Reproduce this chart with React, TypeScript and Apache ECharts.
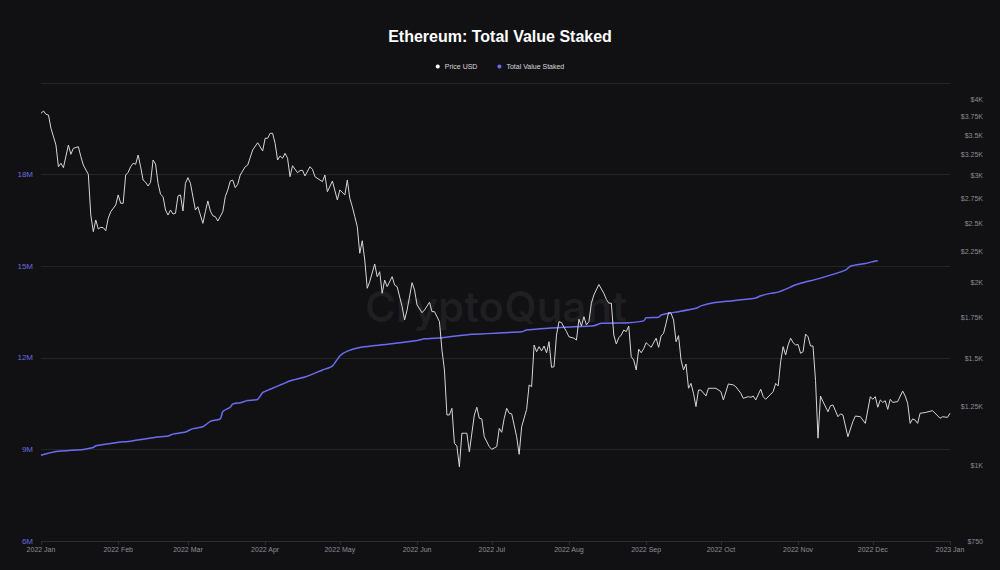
import React, { useEffect, useRef } from 'react';
import * as echarts from 'echarts';

const TITLE = 'Ethereum: Total Value Staked';
const SERIES_NAMES = ['Price USD', 'Total Value Staked'];
const WATERMARK = 'CryptoQuant';
const MONTH_NAMES = ['Jan', 'Feb', 'Mar', 'Apr', 'May', 'Jun', 'Jul', 'Aug', 'Sep', 'Oct', 'Nov', 'Dec'];
const X_TICKS = [
  '2022-01-01', '2022-02-01', '2022-03-01', '2022-04-01', '2022-05-01', '2022-06-01', '2022-07-01',
  '2022-08-01', '2022-09-01', '2022-10-01', '2022-11-01', '2022-12-01', '2023-01-01',
];
const STAKED_AXIS = { min: 6, max: 21, interval: 3 };
const PRICE_AXIS = { min: 750, max: 4265 };
const PRICE_TICKS = [750, 1000, 1250, 1500, 1750, 2000, 2250, 2500, 2750, 3000, 3250, 3500, 3750, 4000];

const PRICE_USD: [string, number][] = [
  ['2022-01-01', 3802], ['2022-01-02', 3835], ['2022-01-03', 3788], ['2022-01-04', 3777], ['2022-01-05', 3592],
  ['2022-01-07', 3371], ['2022-01-08', 3104], ['2022-01-09', 3145], ['2022-01-10', 3093], ['2022-01-12', 3371],
  ['2022-01-13', 3254], ['2022-01-14', 3329], ['2022-01-16', 3349], ['2022-01-17', 3225], ['2022-01-18', 3124],
  ['2022-01-20', 3016], ['2022-01-21', 2584], ['2022-01-22', 2426], ['2022-01-23', 2536], ['2022-01-24', 2451],
  ['2022-01-25', 2466], ['2022-01-26', 2463], ['2022-01-27', 2435], ['2022-01-28', 2553], ['2022-01-29', 2617],
  ['2022-01-31', 2684],
  ['2022-02-01', 2789], ['2022-02-02', 2702], ['2022-02-03', 2702], ['2022-02-04', 3008], ['2022-02-05', 3039],
  ['2022-02-06', 3104], ['2022-02-07', 3145], ['2022-02-08', 3133], ['2022-02-09', 3245], ['2022-02-10', 3104],
  ['2022-02-11', 2951], ['2022-02-12', 2926], ['2022-02-13', 2885], ['2022-02-14', 2926], ['2022-02-15', 3184],
  ['2022-02-16', 3136], ['2022-02-17', 2915], ['2022-02-18', 2796], ['2022-02-19', 2771], ['2022-02-20', 2634],
  ['2022-02-21', 2584], ['2022-02-22', 2634], ['2022-02-23', 2594], ['2022-02-24', 2601], ['2022-02-25', 2778],
  ['2022-02-26', 2789], ['2022-02-27', 2624], ['2022-02-28', 2915],
  ['2022-03-01', 2978], ['2022-03-02', 2915], ['2022-03-04', 2634], ['2022-03-05', 2667], ['2022-03-06', 2584],
  ['2022-03-07', 2504], ['2022-03-08', 2617], ['2022-03-09', 2726], ['2022-03-10', 2624], ['2022-03-11', 2577],
  ['2022-03-12', 2568], ['2022-03-13', 2526], ['2022-03-15', 2617], ['2022-03-16', 2771], ['2022-03-17', 2842],
  ['2022-03-18', 2940], ['2022-03-19', 2951], ['2022-03-20', 2867], ['2022-03-21', 2904], ['2022-03-22', 3008],
  ['2022-03-24', 3104], ['2022-03-25', 3124], ['2022-03-27', 3308], ['2022-03-29', 3400], ['2022-03-31', 3295],
  ['2022-04-01', 3458], ['2022-04-02', 3458], ['2022-04-03', 3524], ['2022-04-04', 3524], ['2022-04-05', 3393],
  ['2022-04-06', 3184], ['2022-04-07', 3233], ['2022-04-08', 3205], ['2022-04-09', 3266], ['2022-04-10', 3205],
  ['2022-04-11', 2989], ['2022-04-12', 3116], ['2022-04-14', 3035], ['2022-04-15', 3058], ['2022-04-16', 3063],
  ['2022-04-17', 2997], ['2022-04-19', 3104], ['2022-04-20', 3074], ['2022-04-21', 2989], ['2022-04-24', 2933],
  ['2022-04-25', 3008], ['2022-04-26', 2823], ['2022-04-28', 2940], ['2022-04-30', 2736],
  ['2022-05-01', 2842], ['2022-05-03', 2789], ['2022-05-04', 2951], ['2022-05-05', 2754], ['2022-05-06', 2667],
  ['2022-05-07', 2568], ['2022-05-08', 2472], ['2022-05-09', 2235], ['2022-05-10', 2344], ['2022-05-11', 2179],
  ['2022-05-12', 1957], ['2022-05-13', 2007], ['2022-05-15', 2146], ['2022-05-16', 2045], ['2022-05-17', 2084],
  ['2022-05-18', 1920], ['2022-05-19', 2019], ['2022-05-20', 1969], ['2022-05-22', 2045], ['2022-05-23', 1981],
  ['2022-05-24', 1969], ['2022-05-26', 1825], ['2022-05-27', 1735], ['2022-05-28', 1802], ['2022-05-30', 1999],
  ['2022-05-31', 1944],
  ['2022-06-01', 1837], ['2022-06-03', 1784], ['2022-06-04', 1802], ['2022-06-06', 1856], ['2022-06-07', 1791],
  ['2022-06-08', 1791], ['2022-06-10', 1724], ['2022-06-11', 1548], ['2022-06-12', 1435], ['2022-06-13', 1210],
  ['2022-06-14', 1210], ['2022-06-15', 1241], ['2022-06-16', 1087], ['2022-06-17', 1075], ['2022-06-18', 994],
  ['2022-06-19', 1129], ['2022-06-20', 1129], ['2022-06-21', 1129], ['2022-06-22', 1052], ['2022-06-24', 1210],
  ['2022-06-25', 1246], ['2022-06-26', 1195], ['2022-06-27', 1192], ['2022-06-28', 1114], ['2022-06-30', 1073],
  ['2022-07-01', 1062], ['2022-07-03', 1073], ['2022-07-04', 1150], ['2022-07-05', 1133], ['2022-07-06', 1195],
  ['2022-07-07', 1241], ['2022-07-08', 1218], ['2022-07-09', 1215], ['2022-07-11', 1114], ['2022-07-12', 1042],
  ['2022-07-13', 1157], ['2022-07-15', 1236], ['2022-07-16', 1356], ['2022-07-17', 1347], ['2022-07-18', 1578],
  ['2022-07-19', 1538], ['2022-07-20', 1568], ['2022-07-21', 1543], ['2022-07-22', 1572], ['2022-07-23', 1532],
  ['2022-07-24', 1598], ['2022-07-25', 1450], ['2022-07-26', 1453], ['2022-07-27', 1639], ['2022-07-28', 1724],
  ['2022-07-29', 1718], ['2022-07-30', 1688], ['2022-07-31', 1660],
  ['2022-08-01', 1628], ['2022-08-03', 1619], ['2022-08-04', 1608], ['2022-08-05', 1740], ['2022-08-06', 1696],
  ['2022-08-07', 1757], ['2022-08-08', 1703], ['2022-08-09', 1724], ['2022-08-10', 1849], ['2022-08-11', 1908],
  ['2022-08-13', 1985], ['2022-08-15', 1920], ['2022-08-16', 1877], ['2022-08-17', 1849], ['2022-08-18', 1850],
  ['2022-08-19', 1639], ['2022-08-20', 1584], ['2022-08-21', 1622], ['2022-08-22', 1639], ['2022-08-23', 1670],
  ['2022-08-24', 1660], ['2022-08-25', 1696], ['2022-08-26', 1509], ['2022-08-27', 1491], ['2022-08-28', 1435],
  ['2022-08-29', 1553], ['2022-08-30', 1532], ['2022-08-31', 1556],
  ['2022-09-01', 1592], ['2022-09-02', 1578], ['2022-09-03', 1564], ['2022-09-05', 1619], ['2022-09-06', 1564],
  ['2022-09-07', 1633], ['2022-09-08', 1650], ['2022-09-09', 1714], ['2022-09-10', 1784], ['2022-09-11', 1780],
  ['2022-09-12', 1735], ['2022-09-13', 1598], ['2022-09-14', 1635], ['2022-09-15', 1491], ['2022-09-16', 1435],
  ['2022-09-17', 1468], ['2022-09-18', 1339], ['2022-09-19', 1364], ['2022-09-20', 1314], ['2022-09-21', 1249],
  ['2022-09-22', 1330], ['2022-09-23', 1330], ['2022-09-25', 1300], ['2022-09-26', 1339], ['2022-09-28', 1339],
  ['2022-09-29', 1339],
  ['2022-10-01', 1322], ['2022-10-02', 1281], ['2022-10-04', 1361], ['2022-10-06', 1356], ['2022-10-07', 1347],
  ['2022-10-09', 1314], ['2022-10-10', 1289], ['2022-10-12', 1297], ['2022-10-13', 1294], ['2022-10-14', 1300],
  ['2022-10-15', 1281], ['2022-10-17', 1334], ['2022-10-18', 1297], ['2022-10-19', 1284], ['2022-10-22', 1322],
  ['2022-10-23', 1364], ['2022-10-24', 1351], ['2022-10-25', 1481], ['2022-10-26', 1568], ['2022-10-27', 1519],
  ['2022-10-28', 1578], ['2022-10-29', 1619], ['2022-10-30', 1592], ['2022-10-31', 1578],
  ['2022-11-01', 1581], ['2022-11-02', 1529], ['2022-11-03', 1538], ['2022-11-04', 1645], ['2022-11-05', 1628],
  ['2022-11-06', 1572], ['2022-11-07', 1572], ['2022-11-08', 1380], ['2022-11-09', 1108], ['2022-11-10', 1300],
  ['2022-11-11', 1273], ['2022-11-13', 1225], ['2022-11-14', 1253], ['2022-11-15', 1257], ['2022-11-17', 1202],
  ['2022-11-18', 1215], ['2022-11-19', 1210], ['2022-11-21', 1114], ['2022-11-23', 1180], ['2022-11-24', 1205],
  ['2022-11-26', 1202], ['2022-11-28', 1172], ['2022-11-30', 1297],
  ['2022-12-01', 1284], ['2022-12-02', 1297], ['2022-12-03', 1246], ['2022-12-04', 1281], ['2022-12-05', 1269],
  ['2022-12-06', 1277], ['2022-12-07', 1236], ['2022-12-08', 1284], ['2022-12-09', 1269], ['2022-12-11', 1273],
  ['2022-12-13', 1325], ['2022-12-14', 1300], ['2022-12-15', 1265], ['2022-12-16', 1172], ['2022-12-17', 1192],
  ['2022-12-18', 1187], ['2022-12-19', 1172], ['2022-12-20', 1218], ['2022-12-22', 1221], ['2022-12-25', 1230],
  ['2022-12-28', 1195], ['2022-12-29', 1202], ['2022-12-31', 1199], ['2023-01-01', 1218],
];

const STAKED_M: [string, number][] = [
  ['2022-01-01', 8.81], ['2022-01-07', 8.93], ['2022-01-18', 9.0], ['2022-01-22', 9.06], ['2022-01-23', 9.12],
  ['2022-01-31', 9.22], ['2022-02-06', 9.27], ['2022-02-11', 9.33], ['2022-02-16', 9.4], ['2022-02-21', 9.44],
  ['2022-02-23', 9.5], ['2022-02-28', 9.57], ['2022-03-03', 9.68], ['2022-03-07', 9.74], ['2022-03-10', 9.92],
  ['2022-03-14', 10.0], ['2022-03-15', 10.24], ['2022-03-18', 10.38], ['2022-03-19', 10.49], ['2022-03-22', 10.53],
  ['2022-03-25', 10.6], ['2022-03-29', 10.64], ['2022-03-31', 10.86], ['2022-04-03', 10.97], ['2022-04-08', 11.14],
  ['2022-04-12', 11.27], ['2022-04-17', 11.37], ['2022-04-24', 11.6], ['2022-04-28', 11.73], ['2022-05-01', 12.06],
  ['2022-05-04', 12.22], ['2022-05-10', 12.35], ['2022-05-20', 12.44], ['2022-06-01', 12.57], ['2022-06-04', 12.62],
  ['2022-06-11', 12.66], ['2022-06-23', 12.77], ['2022-07-13', 12.85], ['2022-07-15', 12.91], ['2022-07-30', 13.0],
  ['2022-08-11', 13.05], ['2022-08-14', 13.13], ['2022-08-25', 13.15], ['2022-08-31', 13.21], ['2022-09-01', 13.31],
  ['2022-09-06', 13.33], ['2022-09-07', 13.4], ['2022-09-10', 13.46], ['2022-09-14', 13.51], ['2022-09-21', 13.62],
  ['2022-09-23', 13.7], ['2022-09-28', 13.8], ['2022-10-06', 13.87], ['2022-10-15', 13.96], ['2022-10-17', 14.03],
  ['2022-10-21', 14.11], ['2022-10-24', 14.15], ['2022-10-28', 14.28], ['2022-10-30', 14.36], ['2022-11-02', 14.44],
  ['2022-11-10', 14.61], ['2022-11-20', 14.87], ['2022-11-22', 15.0], ['2022-11-28', 15.09], ['2022-12-02', 15.17],
  ['2022-12-03', 15.18],
];

const formatPrice = (p: number) => (p >= 1000 ? '$' + p / 1000 + 'K' : '$' + p);
const toTime = (d: string) => Date.parse(d + 'T00:00:00Z');

export default function App() {
  const ref = useRef<HTMLDivElement>(null);

  useEffect(() => {
    if (!ref.current) return;
    const chart = echarts.init(ref.current, null, { renderer: 'svg' });
    const fontFamily = '"Liberation Sans", Arial, Helvetica, sans-serif';
    const gridColor = '#232328';
    const xTickValues = X_TICKS.map(toTime);

    chart.setOption({
      animation: false,
      backgroundColor: '#111114',
      textStyle: { fontFamily },
      title: {
        text: TITLE,
        left: 'center',
        top: 23,
        textStyle: { color: '#ffffff', fontSize: 16, fontWeight: 'bold', fontFamily },
      },
      legend: {
        data: SERIES_NAMES,
        top: 58,
        left: 'center',
        icon: 'circle',
        itemWidth: 4,
        itemHeight: 4,
        itemGap: 20,
        textStyle: { color: '#d8d8dc', fontSize: 7, fontFamily },
      },
      grid: { left: 41, right: 50, top: 83, bottom: 29, containLabel: false },
      graphic: [
        {
          type: 'text',
          x: 496,
          y: 306,
          z: 0,
          silent: true,
          style: {
            text: WATERMARK,
            fill: 'rgba(255,255,255,0.06)',
            font: '600 42px Inter, "Liberation Sans", sans-serif',
            textAlign: 'center',
            textVerticalAlign: 'middle',
          },
        },
      ],
      xAxis: {
        type: 'value',
        min: xTickValues[0],
        max: xTickValues[xTickValues.length - 1],
        axisLine: { show: true, onZero: false, lineStyle: { color: '#2c2c31', width: 1 } },
        axisTick: { show: true, length: 4, customValues: xTickValues, lineStyle: { color: '#2c2c31' } },
        axisLabel: {
          customValues: xTickValues,
          color: '#8e8e94',
          fontSize: 7,
          margin: 5,
          fontFamily,
          formatter: (value: number) => {
            const d = new Date(value);
            return d.getUTCFullYear() + ' ' + MONTH_NAMES[d.getUTCMonth()];
          },
        },
        splitLine: { show: false },
      },
      yAxis: [
        {
          type: 'value',
          position: 'left',
          min: STAKED_AXIS.min,
          max: STAKED_AXIS.max,
          interval: STAKED_AXIS.interval,
          axisLine: { show: false },
          axisTick: { show: false },
          axisLabel: {
            color: '#6b6bdc',
            fontSize: 8,
            margin: 8,
            showMaxLabel: false,
            fontFamily,
            formatter: (v: number) => v + 'M',
          },
          splitLine: { show: true, lineStyle: { color: gridColor, width: 1 } },
        },
        {
          type: 'value',
          position: 'right',
          min: Math.log(PRICE_AXIS.min),
          max: Math.log(PRICE_AXIS.max),
          axisLine: { show: false },
          axisTick: { show: false },
          splitLine: { show: false },
          axisLabel: {
            customValues: PRICE_TICKS.map((p) => Math.log(p)),
            color: '#8a8a90',
            fontSize: 7,
            align: 'right',
            margin: 33,
            fontFamily,
            formatter: (v: number) => formatPrice(Math.round(Math.exp(v))),
          },
        },
      ],
      series: [
        {
          name: SERIES_NAMES[0],
          type: 'line',
          yAxisIndex: 1,
          data: PRICE_USD.map(([d, p]) => [toTime(d), Math.log(p)]),
          symbol: 'none',
          showSymbol: false,
          lineStyle: { color: '#d6d6da', width: 1 },
          itemStyle: { color: '#ffffff' },
          z: 3,
        },
        {
          name: SERIES_NAMES[1],
          type: 'line',
          yAxisIndex: 0,
          data: STAKED_M.map(([d, v]) => [toTime(d), v]),
          symbol: 'none',
          showSymbol: false,
          smooth: 0.2,
          lineStyle: { color: '#6c6cf2', width: 1.5 },
          itemStyle: { color: '#6c6cf2' },
          z: 2,
        },
      ],
    });

    return () => chart.dispose();
  }, []);

  return (
    <div
      ref={ref}
      style={{ position: 'fixed', left: 0, top: 0, width: 1000, height: 570 }}
    />
  );
}
